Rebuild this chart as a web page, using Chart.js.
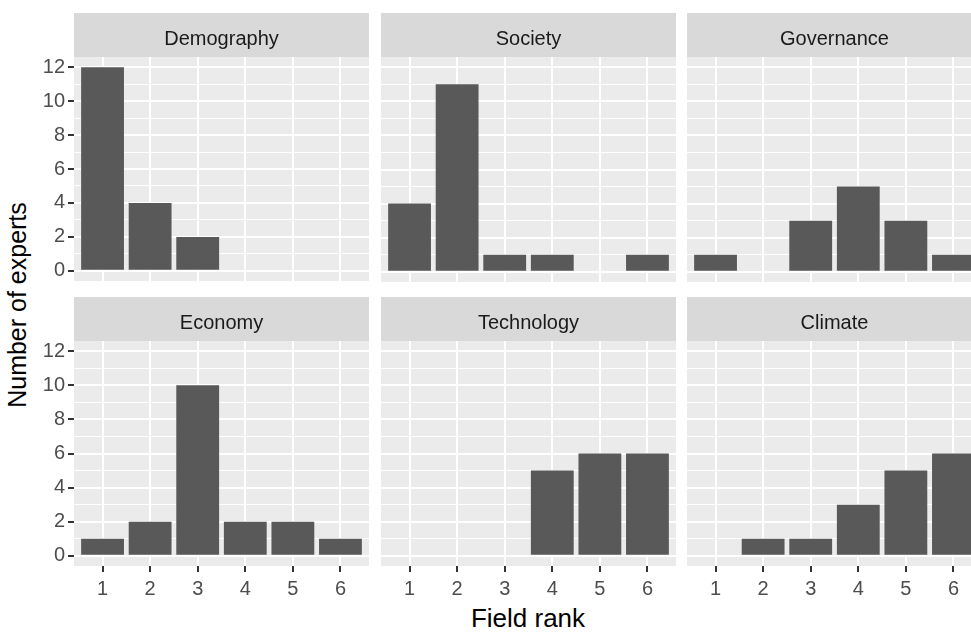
<!DOCTYPE html>
<html>
<head>
<meta charset="utf-8">
<script src="https://cdn.jsdelivr.net/npm/chart.js@4.4.1/dist/chart.umd.min.js"></script>
<style>
  body {
    margin: 0;
    width: 971px;
    height: 632px;
    overflow: hidden;
    position: relative;
    background: #ffffff;
    font-family: "Liberation Sans", Arial, sans-serif;
  }
  canvas { position: absolute; }
  #y-title {
    position: absolute;
    left: -183px;
    top: 290px;
    width: 400px;
    height: 30px;
    line-height: 30px;
    text-align: center;
    font-size: 25px;
    color: #000;
    transform: rotate(-90deg);
  }
  #x-title {
    position: absolute;
    left: 378px;
    top: 605px;
    width: 300px;
    height: 26px;
    line-height: 26px;
    text-align: center;
    font-size: 26px;
    color: #000;
  }
</style>
</head>
<body>
<div id="y-title">Number of experts</div>
<div id="x-title">Field rank</div>

<script>
// data (count of experts per field rank)
const ranks = [1, 2, 3, 4, 5, 6];
const fields = ["Demography", "Society", "Governance", "Economy", "Technology", "Climate"];
const demography = [12, 4, 2, 0, 0, 0];
const society = [4, 11, 1, 1, 0, 1];
const governance = [1, 0, 3, 5, 3, 1];
const economy = [1, 2, 10, 2, 2, 1];
const technology = [0, 0, 0, 5, 6, 6];
const climate = [0, 1, 1, 3, 5, 6];
const yTickLabels = [0, 2, 4, 6, 8, 10, 12];

const fieldValues = [demography, society, governance, economy, technology, climate];

// panel layout (ggplot facet_wrap, 3 columns x 2 rows)
const COL_LEFT = [74, 381, 687];
const ROW_TOP = [13, 297];
const PANEL_W = 295;
const STRIP_H = 44;
const PLOT_H = 225;
const AXIS_W = 60;
const AXIS_H = 40;
const GAP_PAD = 14;

const FONT = '"Liberation Sans", Arial, sans-serif';

const facetPlugin = {
  id: "facet",
  beforeDraw(chart, args, opts) {
    const { ctx, chartArea: a } = chart;
    ctx.save();
    ctx.fillStyle = "#EBEBEB";
    ctx.fillRect(a.left, a.top, a.right - a.left, a.bottom - a.top);
    ctx.fillStyle = "#D9D9D9";
    ctx.fillRect(a.left, a.top - STRIP_H, a.right - a.left, STRIP_H);
    ctx.fillStyle = "#1A1A1A";
    ctx.font = "20px " + FONT;
    ctx.textAlign = "center";
    ctx.textBaseline = "alphabetic";
    ctx.fillText(opts.label, (a.left + a.right) / 2, a.top - STRIP_H + 32);
    ctx.restore();
  },
};

function isMajor(value) {
  return yTickLabels.includes(value);
}

function makePanel(name, values, col, row) {
  const leftAxis = col === 0;
  const bottomAxis = row === 1;
  const extraLeft = leftAxis ? AXIS_W : 0;
  const extraBottom = bottomAxis ? AXIS_H : GAP_PAD;

  const canvas = document.createElement("canvas");
  const w = PANEL_W + extraLeft;
  const h = STRIP_H + PLOT_H + extraBottom;
  canvas.width = w;
  canvas.height = h;
  canvas.style.left = COL_LEFT[col] - extraLeft + "px";
  canvas.style.top = ROW_TOP[row] + "px";
  canvas.style.width = w + "px";
  canvas.style.height = h + "px";
  document.body.appendChild(canvas);

  new Chart(canvas, {
    type: "bar",
    data: {
      datasets: [
        {
          data: ranks.map((r, k) => ({ x: r, y: values[k] })),
          backgroundColor: "#595959",
          borderWidth: 0,
          barPercentage: 0.9,
          categoryPercentage: 1,
        },
      ],
    },
    plugins: [facetPlugin],
    options: {
      responsive: false,
      animation: false,
      events: [],
      layout: {
        padding: { top: STRIP_H, left: 0, right: 0, bottom: bottomAxis ? 0 : GAP_PAD },
      },
      plugins: {
        legend: { display: false },
        tooltip: { enabled: false },
        facet: { label: name },
      },
      scales: {
        x: {
          type: "linear",
          min: 0.4,
          max: 6.6,
          offset: false,
          border: { display: false },
          grid: {
            offset: false,
            color: "#FFFFFF",
            lineWidth: 2,
            drawTicks: bottomAxis,
            tickLength: 6,
            tickColor: "#333333",
            tickWidth: 2,
          },
          ticks: {
            display: bottomAxis,
            stepSize: 1,
            includeBounds: false,
            autoSkip: false,
            maxRotation: 0,
            padding: 5,
            color: "#4D4D4D",
            font: { size: 20, family: FONT },
          },
          afterFit(scale) {
            scale.height = bottomAxis ? AXIS_H : 0;
          },
        },
        y: {
          type: "linear",
          min: -0.6,
          max: 12.6,
          border: { display: false },
          grid: {
            color: "#FFFFFF",
            lineWidth: (c) => (c.tick && isMajor(c.tick.value) ? 2 : 1),
            drawTicks: leftAxis,
            tickLength: 6,
            tickColor: (c) => (c.tick && isMajor(c.tick.value) ? "#333333" : "rgba(0,0,0,0)"),
            tickWidth: 2,
          },
          ticks: {
            display: leftAxis,
            stepSize: 1,
            includeBounds: false,
            autoSkip: false,
            padding: 3,
            color: "#4D4D4D",
            font: { size: 20, family: FONT },
            callback: (v) => (isMajor(v) ? String(v) : ""),
          },
          afterFit(scale) {
            scale.width = leftAxis ? AXIS_W : 0;
          },
        },
      },
    },
  });
}

fields.forEach((name, i) => {
  makePanel(name, fieldValues[i], i % 3, Math.floor(i / 3));
});
</script>
</body>
</html>
